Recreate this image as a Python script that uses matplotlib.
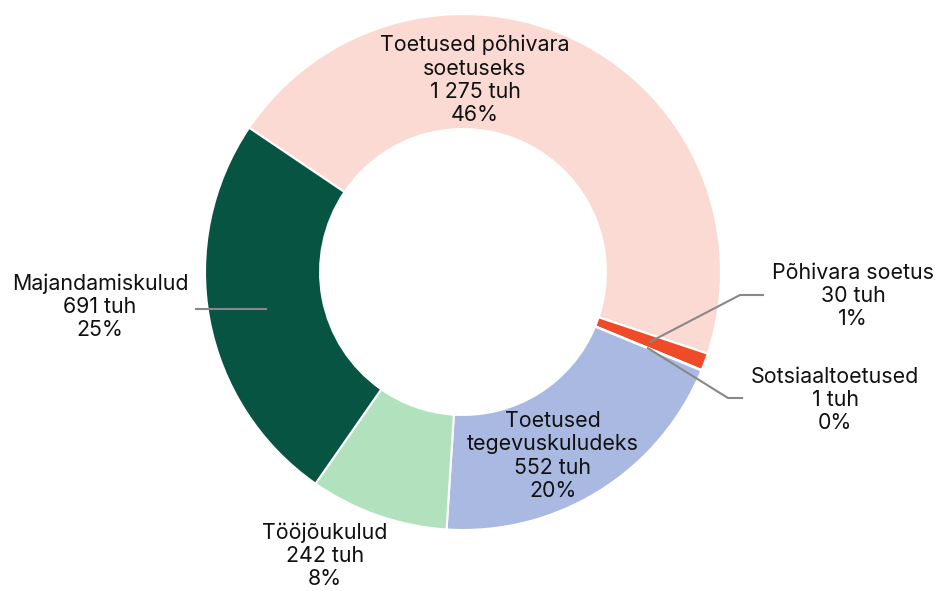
import matplotlib
matplotlib.use("Agg")
import matplotlib.pyplot as plt
import numpy as np

plt.rcParams["font.family"] = ["Inter", "DejaVu Sans"]

# --- data ---
names = ["Toetused põhivara\nsoetuseks", "Põhivara soetus", "Sotsiaaltoetused",
         "Toetused\ntegevuskuludeks", "Tööjõukulud", "Majandamiskulud"]
values = [1275, 30, 1, 552, 242, 691]
percents = [46, 1, 0, 20, 8, 25]
colors = ["#FCDAD4", "#F04B28", "#F2F2F2", "#A9B9E1", "#B2E2BD", "#075443"]

W, H = 935, 591
CX, CY, R = 463, 272, 258


def px(x, y):
    # pixel position of the reference -> data coordinates (radius 1 = R px)
    return (x - CX) / R, (CY - y) / R


fig = plt.figure(figsize=(W / 100, H / 100), dpi=100)
ax = fig.add_axes([0, 0, 1, 1])

wedges, _ = ax.pie(values, colors=colors, startangle=146, counterclock=False,
                   radius=1, wedgeprops=dict(width=0.446, edgecolor="white", linewidth=1.5))

ax.set_xlim(-CX / R, (W - CX) / R)
ax.set_ylim(-(H - CY) / R, CY / R)
ax.set_aspect("equal")
ax.axis("off")

labels = [f"{n}\n{v:,} tuh\n{p}%".replace(",", " ") for n, v, p in zip(names, values, percents)]

# label centres (pixels in the reference)
label_pos = [(475, 80), (853, 296), (835, 400), (553, 456), (325, 556), (100, 307)]
# leader line elbows for outside labels: index -> list of points after the anchor
leaders = {1: [(740, 295), (763, 295)],
           2: [(728, 398), (742, 398)],
           5: [(196, None)]}

for i, (lab, (x, y)) in enumerate(zip(labels, label_pos)):
    tx, ty = px(x, y)
    ax.text(tx, ty, lab, ha="center", va="center", fontsize=15.4, color="#111111",
            linespacing=1.2)

for i, pts in leaders.items():
    w = wedges[i]
    mid = np.deg2rad((w.theta1 + w.theta2) / 2)
    x0, y0 = 0.775 * np.cos(mid), 0.775 * np.sin(mid)
    xs, ys = [x0], [y0]
    for p in pts:
        if p[1] is None:
            xs.append(px(p[0], 0)[0])
            ys.append(y0)
        else:
            xs.append(px(*p)[0])
            ys.append(px(*p)[1])
    ax.plot(xs, ys, color="#888888", linewidth=1.5)

fig.savefig("out.png", dpi=100)
